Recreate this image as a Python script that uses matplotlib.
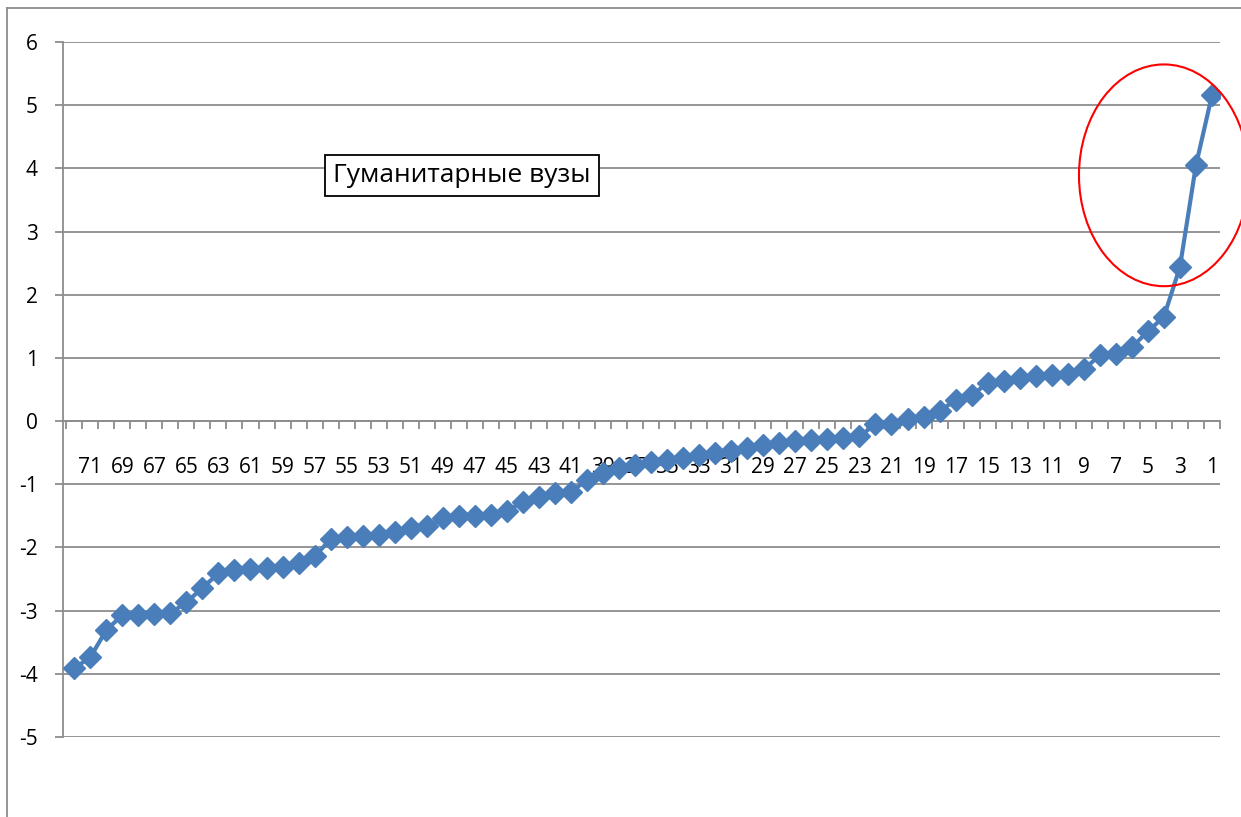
import matplotlib
matplotlib.use("Agg")
import matplotlib.pyplot as plt
from matplotlib.patches import Ellipse
from matplotlib.lines import Line2D
import numpy as np

# ranks shown on the category axis, left to right (72 .. 1)
ranks = list(range(72, 0, -1))
values = [
    -3.91, -3.74, -3.31, -3.07, -3.07, -3.05, -3.04, -2.87, -2.64, -2.41,
    -2.36, -2.34, -2.33, -2.31, -2.25, -2.14, -1.87, -1.84, -1.82, -1.80,
    -1.76, -1.69, -1.66, -1.54, -1.50, -1.50, -1.49, -1.42, -1.28, -1.20,
    -1.14, -1.12, -0.93, -0.82, -0.74, -0.70, -0.65, -0.62, -0.59, -0.54,
    -0.51, -0.47, -0.43, -0.38, -0.35, -0.32, -0.30, -0.28, -0.27, -0.24,
    -0.05, -0.04, 0.03, 0.06, 0.16, 0.33, 0.41, 0.60, 0.63, 0.68,
    0.71, 0.73, 0.74, 0.82, 1.04, 1.06, 1.17, 1.42, 1.65, 2.44,
    4.05, 5.16,
]
yticks = list(range(-5, 7))
title = "Гуманитарные вузы"

plt.rcParams["font.family"] = ["Open Sans", "DejaVu Sans"]

fig = plt.figure(figsize=(12.41, 8.17), dpi=100)
ax = fig.add_axes([63 / 1241, 80 / 817, (1220 - 63) / 1241, (737 - 42) / 817])

x = np.arange(len(ranks))
ax.plot(x, values, color="#4a7ebb", lw=3, marker="D", ms=11, zorder=3)

ax.set_xlim(-0.7, len(ranks) - 0.55)
ax.set_ylim(-5, 6)
ax.set_yticks(yticks)
ax.set_yticklabels([str(v) for v in yticks], fontsize=15)
ax.yaxis.grid(True, color="#8c8c8c", lw=1.3)
ax.set_axisbelow(True)

ax.spines["top"].set_visible(False)
ax.spines["right"].set_visible(False)
ax.spines["left"].set_color("#8c8c8c")
ax.spines["left"].set_linewidth(1.3)
ax.spines["bottom"].set_position(("data", 0))
ax.spines["bottom"].set_color("#8c8c8c")
ax.spines["bottom"].set_linewidth(1.3)
ax.tick_params(axis="y", length=6, width=1.3, color="#8c8c8c", pad=12, labelcolor="black")

# labels on every other rank, tick marks between categories
lab_idx = [i for i, r in enumerate(ranks) if r % 2 == 1]
ax.set_xticks(lab_idx)
ax.set_xticklabels([str(ranks[i]) for i in lab_idx], fontsize=15)
ax.tick_params(axis="x", which="major", length=0, pad=26, labelcolor="black")
ax.set_xticks(np.arange(len(ranks) + 1) - 0.5, minor=True)
ax.tick_params(axis="x", which="minor", length=6, width=1.3, color="#8c8c8c", direction="out")

ax.text(24.2, 3.89, title, fontsize=19, ha="center", va="center",
        bbox=dict(boxstyle="square,pad=0.3", fc="white", ec="black", lw=1.3), zorder=4)

ax.add_patch(Ellipse((68.0, 3.89), 10.6, 3.51, fill=False, ec="red", lw=1.5, clip_on=False, zorder=5))

# outer chart frame
fig.add_artist(Line2D([7 / 1241, 7 / 1241], [0, 1 - 8 / 817], color="#8c8c8c", lw=1.3))
fig.add_artist(Line2D([7 / 1241, 1], [1 - 8 / 817, 1 - 8 / 817], color="#8c8c8c", lw=1.3))

fig.savefig("out.png", dpi=100)
